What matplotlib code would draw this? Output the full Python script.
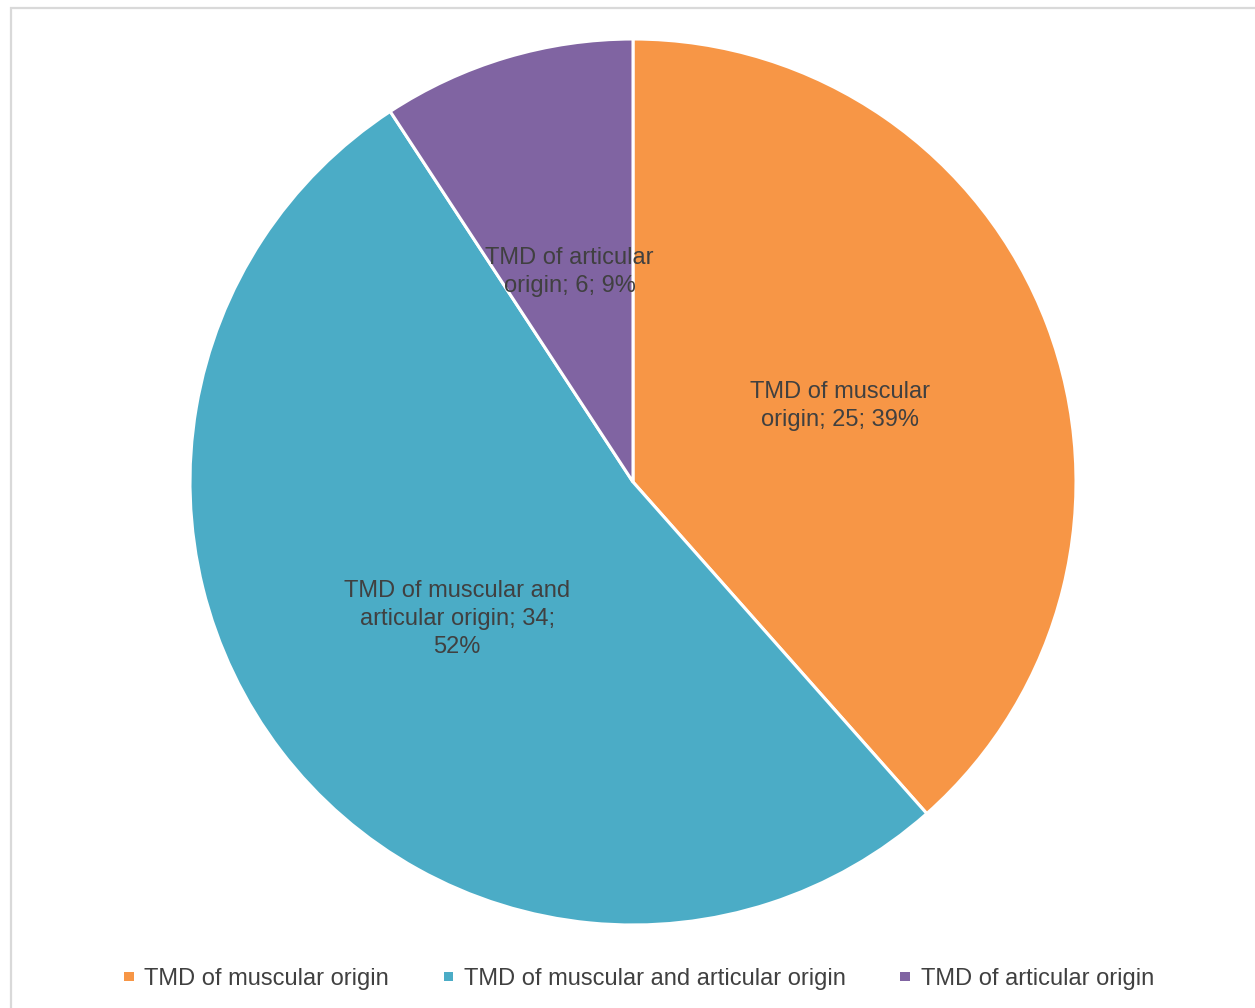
import matplotlib
matplotlib.use("Agg")
import matplotlib.pyplot as plt
from matplotlib.patches import Patch, Rectangle

plt.rcParams['font.family'] = ['Liberation Sans', 'DejaVu Sans']

# TMD diagnosis counts
categories = ['TMD of muscular origin',
              'TMD of muscular and articular origin',
              'TMD of articular origin']
counts = [25, 34, 6]
percents = [39, 52, 9]
wrapped_names = ['TMD of muscular\norigin',
                 'TMD of muscular and\narticular origin',
                 'TMD of articular\norigin']
colors = ['#F79646', '#4BACC6', '#8064A2']
text_color = '#404040'

labels = [
    wrapped_names[0] + '; %d; %d%%' % (counts[0], percents[0]),
    wrapped_names[1] + '; %d;\n%d%%' % (counts[1], percents[1]),
    wrapped_names[2] + '; %d; %d%%' % (counts[2], percents[2]),
]

fig = plt.figure(figsize=(12.55, 10.08), dpi=100)
W, H = 1255, 1008
cx, cy, r = 633, 482, 443
ax = fig.add_axes([(cx - r) / W, (H - cy - r) / H, 2 * r / W, 2 * r / H])

wedges, texts = ax.pie(counts, labels=labels, colors=colors, startangle=90,
                       counterclock=False, labeldistance=0.5, radius=1,
                       wedgeprops=dict(edgecolor='white', linewidth=2.2),
                       textprops=dict(fontsize=17, color=text_color))
for t in texts:
    t.set_ha('center')
    t.set_va('center')
    t.set_multialignment('center')
    t.set_linespacing(1.35)
    x, y = t.get_position()
    t.set_position((x, y - 0.006))

ax.set_xlim(-1, 1)
ax.set_ylim(-1, 1)
ax.set_aspect('equal')
ax.axis('off')

# legend along the bottom
handles = [Patch(facecolor=c, edgecolor='none') for c in colors]
fig.legend(handles, categories, loc='center', bbox_to_anchor=(639 / W, 1 - 979 / H),
           ncol=3, frameon=False, fontsize=17, handlelength=0.42, handleheight=0.25,
           handletextpad=0.45, columnspacing=2.3, labelcolor=text_color)

# chart area border (only top and left edges fall inside the image)
x0 = 10.5 / W
y1 = 1 - 8.5 / H
fig.add_artist(Rectangle((x0, -1), 3, y1 + 1, transform=fig.transFigure,
                         fill=False, edgecolor='#d9d9d9', linewidth=1.6))

fig.savefig('out.png', dpi=100, facecolor='white')
